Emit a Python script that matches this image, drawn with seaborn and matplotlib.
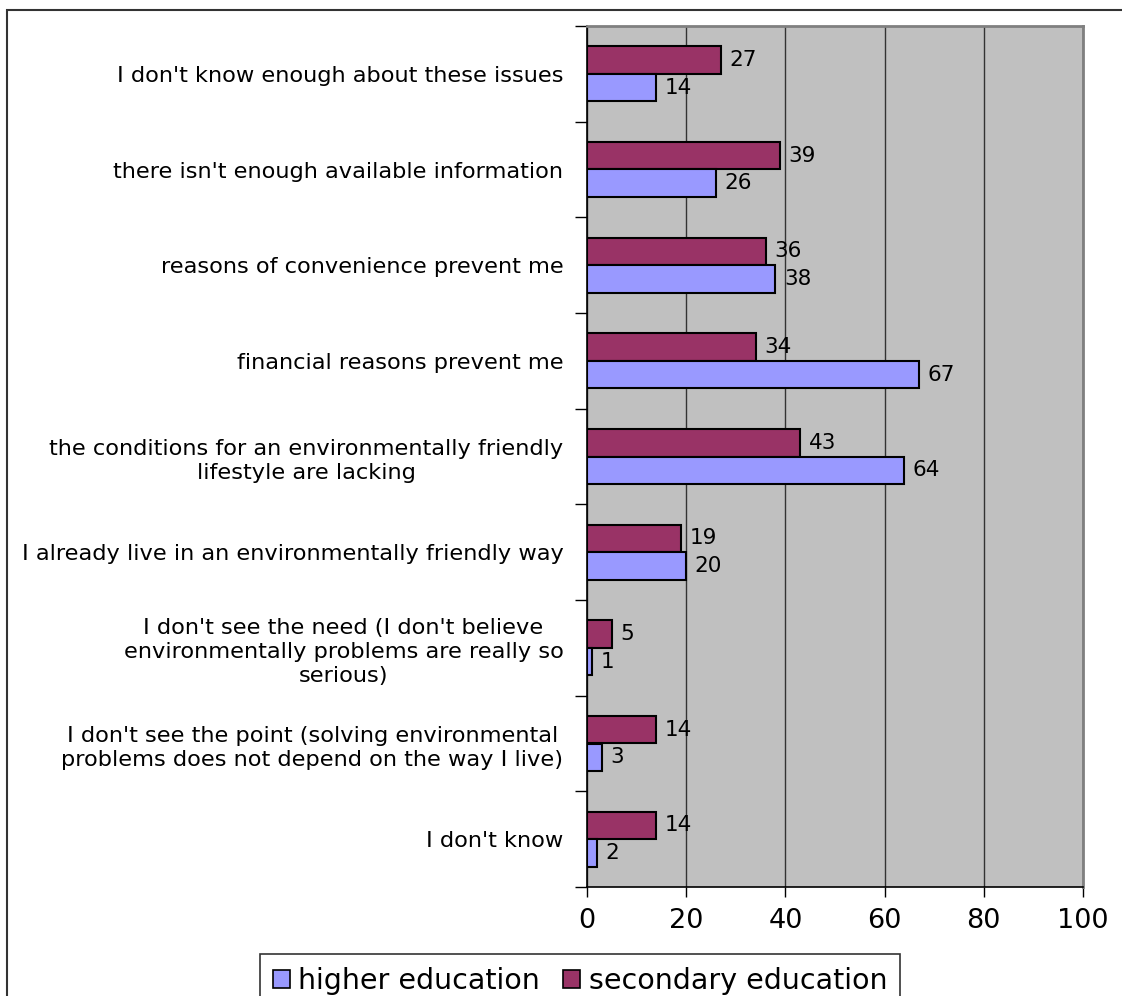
import matplotlib
matplotlib.use("Agg")
import matplotlib.pyplot as plt
from matplotlib.patches import Patch, Rectangle
from matplotlib.ticker import FixedLocator
import seaborn as sns
import pandas as pd
import numpy as np

categories = [
    "I don't know enough about these issues",
    "there isn't enough available information",
    "reasons of convenience prevent me",
    "financial reasons prevent me",
    "the conditions for an environmentally friendly\nlifestyle are lacking",
    "I already live in an environmentally friendly way",
    "I don't see the need (I don't believe\nenvironmentally problems are really so\nserious)",
    "I don't see the point (solving environmental\nproblems does not depend on the way I live)",
    "I don't know",
]
higher_education = [14, 26, 38, 67, 64, 20, 1, 3, 2]
secondary_education = [27, 39, 36, 34, 43, 19, 5, 14, 14]
series_names = ["higher education", "secondary education"]
x_ticks = [0, 20, 40, 60, 80, 100]

colors = {"higher education": "#9999FF", "secondary education": "#993366"}

df = pd.DataFrame({
    "category": categories * 2,
    "value": higher_education + secondary_education,
    "series": [series_names[0]] * len(categories) + [series_names[1]] * len(categories),
})

sns.set_theme(style="white")
plt.rcParams["font.family"] = ["DejaVu Sans"]
plt.rcParams["text.color"] = "black"
plt.rcParams["xtick.color"] = "black"
plt.rcParams["ytick.color"] = "black"

W, H = 1122, 996
fig = plt.figure(figsize=(W / 100, H / 100), dpi=100)
ax = fig.add_axes([587 / W, 1 - 887 / H, (1083 - 587) / W, (887 - 26) / H])
ax.set_facecolor("#C0C0C0")

sns.barplot(
    data=df, y="category", x="value", hue="series",
    hue_order=["secondary education", "higher education"],
    order=categories, palette=colors, orient="h",
    width=0.575, saturation=1, edgecolor="black", linewidth=1.5,
    ax=ax, legend=False,
)

for cont in ax.containers:
    ax.bar_label(cont, padding=6, fontsize=15.5, color="black")

ax.set_xlim(0, 100)
ax.set_ylim(len(categories) - 0.5, -0.5)
ax.set_xticks(x_ticks)
ax.set_xticklabels([str(t) for t in x_ticks], fontsize=19.5)
ax.tick_params(axis="x", which="major", direction="out", length=7, width=1,
               color="black", labelcolor="black", pad=8, bottom=True)
ax.xaxis.grid(True, color="#333333", linewidth=1)
ax.set_axisbelow(True)

ax.tick_params(axis="y", which="major", length=0, pad=17, labelsize=16.2,
               labelcolor="black")
for lab in ax.get_yticklabels():
    lab.set_multialignment("center")
    lab.set_linespacing(1.25)
ax.yaxis.set_minor_locator(FixedLocator(np.arange(-0.5, len(categories) + 0.5, 1)))
ax.tick_params(axis="y", which="minor", direction="out", length=9, width=1,
               color="black", left=True)

ax.set_xlabel("")
ax.set_ylabel("")
for side in ["left", "bottom"]:
    ax.spines[side].set_color("black")
    ax.spines[side].set_linewidth(1.2)
for side in ["top", "right"]:
    ax.spines[side].set_color("#808080")
    ax.spines[side].set_linewidth(2)

# outer chart frame
fig.patches.append(Rectangle((7 / W, -0.1), 1.2, 1 - 10 / H + 0.1,
                             transform=fig.transFigure, fill=False,
                             edgecolor="#333333", linewidth=1.5))

handles = [Patch(facecolor=colors[s], edgecolor="black", linewidth=1.2) for s in series_names]
leg = fig.legend(handles, series_names, loc="center", ncol=2,
                 bbox_to_anchor=(580 / W, 1 - 981 / H), fontsize=20.5,
                 frameon=True, fancybox=False, edgecolor="black",
                 handlelength=0.6, handleheight=0.6, handletextpad=0.3,
                 columnspacing=0.8, borderpad=0.45, borderaxespad=0)
leg.get_frame().set_linewidth(1.2)
for t in leg.get_texts():
    t.set_color("black")

fig.savefig("out.png", dpi=100)
